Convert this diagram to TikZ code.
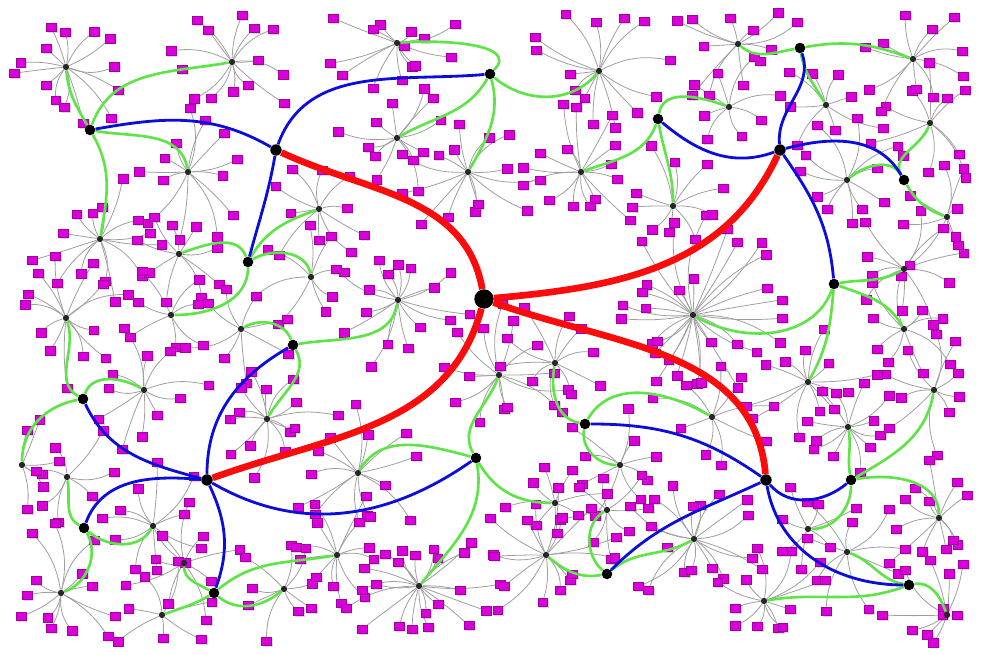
\documentclass[tikz,border=0pt]{standalone}
\usetikzlibrary{shadows}
\definecolor{leafmag}{RGB}{218,0,218}
\definecolor{treered}{RGB}{250,12,12}
\definecolor{treeblue}{RGB}{12,12,220}
\definecolor{treegreen}{RGB}{95,228,72}
\pgfdeclarelayer{paper}\pgfdeclarelayer{tree}\pgfdeclarelayer{dots}
\pgfsetlayers{paper,main,tree,dots}
\def\hubdata{h1/66/588/a1/14/120/-85,h2/232/593/a1/14/70/190,h3/188/483/a1/13/-10/100,
h4/100/416/a1/14/-60/80,h5/397/612/a2/14/45/5,h6/599/584/a2/14/-40/-130,
h7/397/517/a2/12/-120/30,h8/468/483/a2/14/-75/60,h9/319/446/a3/10/60/200,
h10/179/401/a3/9/110/20,h11/311/378/a3/8/30/100,h12/171/340/a3/7/-90/0,
h13/241/326/c2/8/110/30,h14/398/355/c2/16/10/-100,h15/267/236/c2/14/-60/60,
h16/66/337/c1/13/150/-70,h17/144/265/c1/11/70/150,h18/22/190/c1/6/190/90,
h19/67/178/c3/7/150/-80,h20/153/129/c3/11/-40/-120,h21/61/62/c3/13/-60/20,
h22/184/92/c4/9/150/-90,h23/162/40/c4/7/-150/20,h24/284/66/c4/9/-40/-140,
h25/337/100/c4/12/40/190,h26/358/182/c5/13/165/60,h27/419/69/c5/22/-80/50,
h28/499/280/c5/14/120/-110,h29/555/152/c5/8/-60/180,h30/555/292/d1/10/170/-100,
h31/620/190/d1/9/-100/180,h32/712/238/d1/9/60/150,h33/607/145/d2/8/140/-150,
h34/546/100/d2/16/-170/-40,h35/694/116/d2/18/40/-150,h36/847/103/d3/9/170/-20,
h37/947/40/d3/11/10/110,h38/764/54/d3/12/-160/10,h39/848/228/d4/12/100/-80,
h40/934/265/d4/10/30/-100,h41/808/126/d4/7/-90/0,h42/939/137/d4/12/10/90,
h43/808/273/b4/12/-95/60,h44/693/340/b4/30/-110/-30,h45/904/386/b4/10/10/-150,
h46/904/326/b4/9/-20/120,h47/930/532/b3/10/120/-110,h48/847/475/b3/11/120/40,
h49/947/438/b3/8/-60/160,h50/738/611/b2/12/190/-40,h51/913/596/b2/11/10/160,
h52/826/550/b2/8/-80/120,h53/729/548/b1/8/80/160,h54/673/449/b1/10/-80/90,
h55/581/483/b1/15/-110/20}
\begin{document}
\begin{tikzpicture}[x=0.02cm,y=0.02cm,
  topdot/.style={circle,fill=black,inner sep=0,minimum size=11pt},
  middot/.style={circle,fill=black,inner sep=0,minimum size=6.5pt},
  subdot/.style={circle,fill=black,inner sep=0,minimum size=6pt},
  hubdot/.style={circle,fill=black!85,inner sep=0,minimum size=3.6pt},
  leafbox/.style={rectangle,fill=leafmag,draw=leafmag!75!black,line width=0.2pt,inner sep=0,
    minimum width=5.6pt,minimum height=4.7pt,
    drop shadow={shadow xshift=0.9pt,shadow yshift=-0.9pt,opacity=0.3}},
  fanline/.style={draw=black!38,line width=0.45pt},
  redlink/.style={draw=treered,line width=3.8pt},
  bluelink/.style={draw=treeblue,line width=1.6pt},
  greenlink/.style={draw=treegreen,line width=1.5pt}]
\begin{pgfonlayer}{paper}
\fill[white] (0,0) rectangle (981,655);
\end{pgfonlayer}
\useasboundingbox (0,0) rectangle (981,655);
\pgfmathsetseed{4242}
\begin{pgfonlayer}{dots}
\node[topdot] (H) at (484,356) {};
\foreach \n/\x/\y in {A/276/505,B/780/505,C/207/175,D/766/175}
  \node[middot] (\n) at (\x,\y) {};
\foreach \n/\x/\y in {a1/90/525,a2/490/581,a3/248/393,b1/658/536,b2/800/607,b3/904/475,
  b4/834/371,c1/83/256,c2/293/310,c3/84/127,c4/214/62,c5/476/197,d1/585/231,d2/607/81,
  d3/909/70,d4/851/175}
  \node[subdot] (\n) at (\x,\y) {};
\foreach \n/\x/\y/\p/\k/\o/\i in \hubdata
  \node[hubdot] (\n) at (\x,\y) {};
\end{pgfonlayer}
\foreach \n/\x/\y/\p/\k/\o/\i in \hubdata{
  \foreach \j in {1,...,\k}{
    \pgfmathsetmacro\ang{\j*360/\k+rnd*24}
    \pgfmathsetmacro\rad{26+rnd*(22+1.8*\k)}
    \pgfmathsetmacro\lx{967-abs(967-(14+abs(\x+\rad*cos(\ang)-14)))}
    \pgfmathsetmacro\ly{643-abs(643-(12+abs(\y+\rad*sin(\ang)-12)))}
    \pgfmathsetmacro\bb{(rnd-0.5)*44}
    \coordinate (\n-\j) at (\lx,\ly);
    \draw[fanline] (\n) to[bend left=\bb] (\n-\j);
  }
}
\foreach \n/\x/\y/\p/\k/\o/\i in \hubdata{
  \foreach \j in {1,...,\k}
    \node[leafbox] (\n-\j-sq) at (\n-\j) {};
}
\begin{pgfonlayer}{tree}
\foreach \n/\x/\y/\p/\k/\o/\i in \hubdata
  \draw[greenlink] (\p) to[out=\o,in=\i] (\n);
\draw[bluelink] (A) to[out=150,in=10] (a1);
\draw[bluelink] (A) to[out=70,in=185] (a2);
\draw[bluelink] (A) to[out=-100,in=75] (a3);
\draw[bluelink] (B) to[out=200,in=-40] (b1);
\draw[bluelink] (B) to[out=95,in=-70] (b2);
\draw[bluelink] (B) to[out=15,in=120] (b3);
\draw[bluelink] (B) to[out=-55,in=95] (b4);
\draw[bluelink] (C) to[out=165,in=-65] (c1);
\draw[bluelink] (C) to[out=90,in=210] (c2);
\draw[bluelink] (C) to[out=175,in=70] (c3);
\draw[bluelink] (C) to[out=-65,in=70] (c4);
\draw[bluelink] (C) to[out=-30,in=-145] (c5);
\draw[bluelink] (D) to[out=145,in=0] (d1);
\draw[bluelink] (D) to[out=205,in=45] (d2);
\draw[bluelink] (D) to[out=-80,in=180] (d3);
\draw[bluelink] (D) to[out=-50,in=-140] (d4);
\draw[redlink] (H) to[out=100,in=-25] (A);
\draw[redlink] (H) to[out=5,in=-115] (B);
\draw[redlink] (H) to[out=-105,in=20] (C);
\draw[redlink] (H) to[out=-20,in=95] (D);
\end{pgfonlayer}
\end{tikzpicture}
\end{document}
